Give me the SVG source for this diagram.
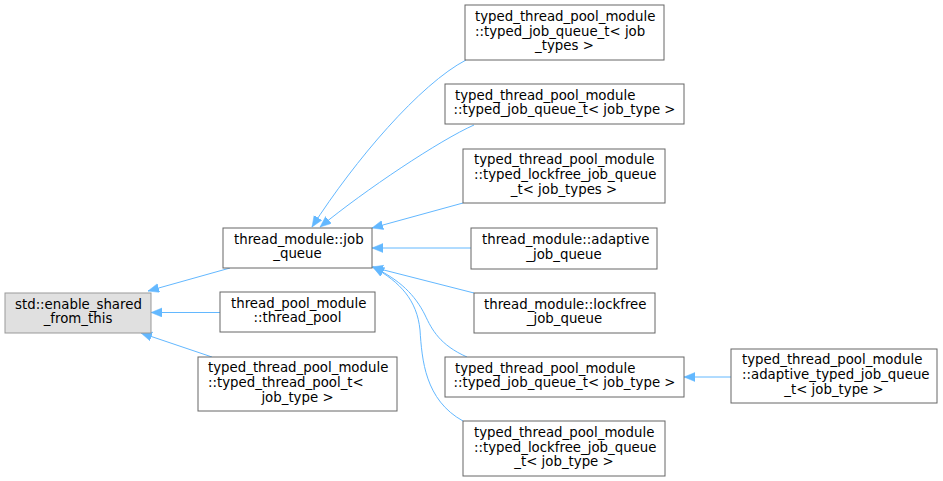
<svg xmlns="http://www.w3.org/2000/svg" width="943" height="481" viewBox="0 0 943 481">
<style>
  .box { fill: #ffffff; stroke: #666666; stroke-width: 1; }
  .root { fill: #e0e0e0; stroke: #999999; stroke-width: 1; }
  text { font-family: "DejaVu Sans", "Liberation Sans", sans-serif; font-size: 13.33px; fill: #000000; }
  .s { text-anchor: start; }
  .m { text-anchor: middle; }
  .edge { fill: none; stroke: #63b8ff; stroke-width: 1; marker-end: url(#arr); }
</style>
<defs>
  <marker id="arr" markerUnits="userSpaceOnUse" markerWidth="12" markerHeight="10" refX="11" refY="4.5" orient="auto">
    <path d="M0,0 L11,4.5 L0,9 z" fill="#63b8ff" stroke="#63b8ff" stroke-width="0.5"/>
  </marker>
</defs>
<rect width="943" height="481" fill="#ffffff"/>
<g id="connectors">
  <path class="edge" d="M230,268 L148,291"/>
  <path class="edge" d="M220,312.5 L151,312.5"/>
  <path class="edge" d="M212,357 L141,333"/>
  <path class="edge" d="M466,60 C420,84 355,160 312,227"/>
  <path class="edge" d="M474,125 C440,140 365,190 320,227"/>
  <path class="edge" d="M463,203 L372,228"/>
  <path class="edge" d="M471,248 L372,248"/>
  <path class="edge" d="M474,293 L372,267"/>
  <path class="edge" d="M467,357 C440,345 432,330 425,315 C415,295 400,280 373,267"/>
  <path class="edge" d="M463,421 C425,400 422,360 420,330 C417,300 400,282 373,267"/>
  <path class="edge" d="M731,377 L684,377"/>
</g>
<g id="std_enable_shared_from_this">
  <rect class="root" x="5" y="293" width="146" height="40"/>
  <text class="s" x="15" y="308.7">std::enable_shared</text>
  <text class="m" x="78" y="323.4">_from_this</text>
</g>
<g id="job_queue">
  <rect class="box" x="223" y="228" width="149" height="40"/>
  <text class="s" x="234" y="243.7">thread_module::job</text>
  <text class="m" x="297.5" y="258.3">_queue</text>
</g>
<g id="thread_pool">
  <rect class="box" x="220" y="292" width="155" height="40"/>
  <text class="s" x="231" y="307.7">thread_pool_module</text>
  <text class="m" x="297.5" y="322.3">::thread_pool</text>
</g>
<g id="typed_thread_pool_t">
  <rect class="box" x="198" y="357" width="199" height="54"/>
  <text class="s" x="208" y="372.3">typed_thread_pool_module</text>
  <text class="s" x="208" y="387">::typed_thread_pool_t&lt;</text>
  <text class="m" x="297.5" y="401.7">job_type &gt;</text>
</g>
<g id="typed_job_queue_t_types">
  <rect class="box" x="465" y="5" width="199" height="55"/>
  <text class="s" x="475" y="20.8">typed_thread_pool_module</text>
  <text class="s" x="475" y="35.5">::typed_job_queue_t&lt; job</text>
  <text class="m" x="564.5" y="50.2">_types &gt;</text>
</g>
<g id="typed_job_queue_t_type_top">
  <rect class="box" x="445" y="84" width="239" height="40"/>
  <text class="s" x="455" y="99.7">typed_thread_pool_module</text>
  <text class="m" x="564.5" y="114.3">::typed_job_queue_t&lt; job_type &gt;</text>
</g>
<g id="typed_lockfree_job_queue_t_types">
  <rect class="box" x="463" y="149" width="202" height="54"/>
  <text class="s" x="474" y="164.3">typed_thread_pool_module</text>
  <text class="s" x="474" y="179">::typed_lockfree_job_queue</text>
  <text class="m" x="564" y="193.7">_t&lt; job_types &gt;</text>
</g>
<g id="adaptive_job_queue">
  <rect class="box" x="471" y="228" width="186" height="41"/>
  <text class="s" x="482" y="244.2">thread_module::adaptive</text>
  <text class="m" x="564" y="258.8">_job_queue</text>
</g>
<g id="lockfree_job_queue">
  <rect class="box" x="474" y="293" width="181" height="40"/>
  <text class="s" x="484" y="308.7">thread_module::lockfree</text>
  <text class="m" x="564.5" y="323.3">_job_queue</text>
</g>
<g id="typed_job_queue_t_type_bottom">
  <rect class="box" x="445" y="357" width="239" height="40"/>
  <text class="s" x="455" y="372.7">typed_thread_pool_module</text>
  <text class="m" x="564.5" y="387.3">::typed_job_queue_t&lt; job_type &gt;</text>
</g>
<g id="typed_lockfree_job_queue_t_type">
  <rect class="box" x="463" y="421" width="202" height="55"/>
  <text class="s" x="474" y="436.8">typed_thread_pool_module</text>
  <text class="s" x="474" y="451.5">::typed_lockfree_job_queue</text>
  <text class="m" x="564" y="466.2">_t&lt; job_type &gt;</text>
</g>
<g id="adaptive_typed_job_queue_t">
  <rect class="box" x="731" y="349" width="206" height="54"/>
  <text class="s" x="742" y="364.3">typed_thread_pool_module</text>
  <text class="s" x="742" y="379">::adaptive_typed_job_queue</text>
  <text class="m" x="834" y="393.7">_t&lt; job_type &gt;</text>
</g>
</svg>
